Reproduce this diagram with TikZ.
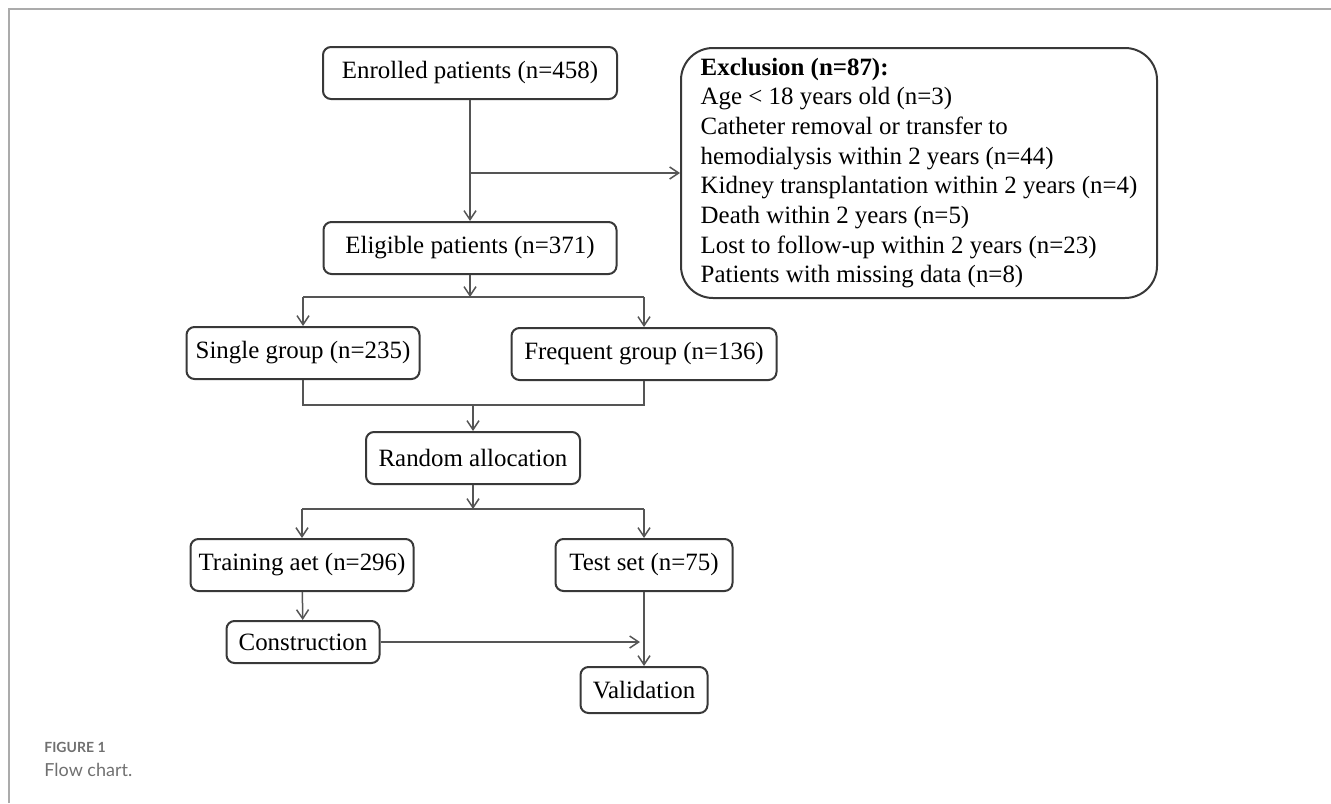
\documentclass[tikz,border=0pt]{standalone}
\usepackage{fontspec}
\setmainfont{Liberation Serif}
\newfontfamily\capfont{Lato}
\usepackage{tikz}
\usetikzlibrary{arrows.meta}
\definecolor{boxline}{HTML}{383838}
\definecolor{linegray}{HTML}{555555}
\definecolor{framegray}{HTML}{ABABAB}
\definecolor{capgray}{HTML}{707070}

\begin{document}
\begin{tikzpicture}[x=0.5pt,y=-0.5pt,
	box/.style={draw=boxline, line width=1pt, rounded corners=4pt, minimum height=26pt, inner sep=0pt, font=\fontsize{12.45}{14.85}\selectfont},
	arr/.style={draw=linegray, line width=0.75pt, -{Straight Barb[length=4.5pt,width=6pt]}},
	ln/.style={draw=linegray, line width=0.75pt}]
	\useasboundingbox (0,0) rectangle (1331,803);
	\draw[framegray, line width=1pt] (9,803) -- (9,9) -- (1331,9);
	\node[box, minimum width=147pt] (enrol) at (470,73) {Enrolled patients (n=458)};
	\node[box, minimum width=238pt, minimum height=125pt, rounded corners=16pt, align=left] (excl) at (919,173) {\textbf{Exclusion (n=87):}\\Age < 18 years old (n=3)\\Catheter removal or transfer to\\hemodialysis within 2 years (n=44)\\Kidney transplantation within 2 years (n=4)\\Death within 2 years (n=5)\\Lost to follow-up within 2 years (n=23)\\Patients with missing data (n=8)};
	\node[box, minimum width=146.5pt] (elig) at (470,248) {Eligible patients (n=371)};
	\node[box, minimum width=116.5pt] (single) at (303,353) {Single group (n=235)};
	\node[box, minimum width=132.5pt] (freq) at (644,354) {Frequent group (n=136)};
	\node[box, minimum width=107pt] (random) at (473,458) {Random allocation};
	\node[box, minimum width=111.5pt] (train) at (302,565) {Training aet (n=296)};
	\node[box, minimum width=88.5pt] (test) at (644,565) {Test set (n=75)};
	\node[box, minimum width=76.5pt, minimum height=21pt] (constr) at (303,642) {Construction};
	\node[box, minimum width=63.5pt, minimum height=23pt] (valid) at (644,690) {Validation};
	\coordinate (b1) at (470,173);
	\coordinate (s1) at (470,297);
	\coordinate (s1l) at (303,297);
	\coordinate (s1r) at (644,297);
	\coordinate (m1l) at (303,405);
	\coordinate (m1r) at (644,405);
	\coordinate (m1) at (473,405);
	\coordinate (s2) at (473,509);
	\coordinate (s2l) at (302,509);
	\coordinate (s2r) at (644,509);
	\coordinate (c1) at (640,642);
	\draw[arr] (enrol) -- (elig);
	\draw[arr] (b1) -- (excl);
	\draw[arr] (elig) -- (s1);
	\draw[ln] (s1l) -- (s1r);
	\draw[arr] (s1l) -- (single);
	\draw[arr] (s1r) -- (freq);
	\draw[ln] (single.south) -- (m1l) -- (m1r) -- (freq.south);
	\draw[arr] (m1) -- (random);
	\draw[arr] (random) -- (s2);
	\draw[ln] (s2l) -- (s2r);
	\draw[arr] (s2l) -- (train);
	\draw[arr] (s2r) -- (test);
	\draw[arr] (train) -- (constr);
	\draw[arr] (constr) -- (c1);
	\draw[arr] (test) -- (valid);
	\node[anchor=base west, inner sep=0pt, text=capgray, font=\capfont\bfseries\fontsize{7}{8}\selectfont] (fig) at (44,752) {FIGURE 1};
	\node[anchor=base west, inner sep=0pt, text=capgray, font=\capfont\fontsize{9}{11}\selectfont] (cap) at (44,776) {Flow chart.};
\end{tikzpicture}
\end{document}
